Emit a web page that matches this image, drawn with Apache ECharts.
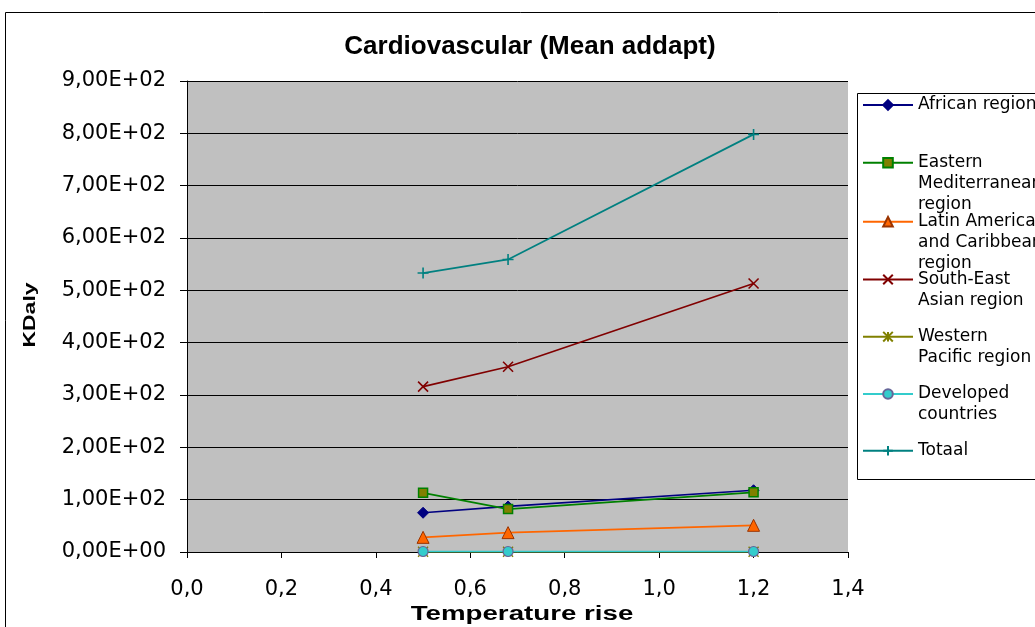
<!DOCTYPE html>
<html>
<head>
<meta charset="utf-8">
<title>Cardiovascular (Mean addapt)</title>
<script src="https://cdn.jsdelivr.net/npm/echarts/dist/echarts.min.js"></script>
<style>
  html, body { margin: 0; padding: 0; background: #ffffff; }
  #chart { width: 1035px; height: 627px; }
</style>
</head>
<body>
<div id="chart"></div>
<script>
// Temperature rise (x) and KDaly per region (y)
const temperatureRise = [0.5, 0.68, 1.2];
const african        = [75, 87, 118];
const easternMed     = [113, 82, 114];
const latinAmerican  = [28, 37, 51];
const southEastAsian = [316, 354, 513];
const westernPacific = [0.5, 0.5, 0.5];
const developed      = [1, 1, 1];
const totaal         = [533, 559, 798];

const seriesNames = [
  'African region',
  'Eastern Mediterranean region',
  'Latin American and Caribbean region',
  'South-East Asian region',
  'Western Pacific region',
  'Developed countries',
  'Totaal'
];
const seriesValues = [african, easternMed, latinAmerican, southEastAsian, westernPacific, developed, totaal];

// Legend text, wrapped the way it is shown in the legend box
const legendLines = [
  ['African region'],
  ['Eastern', 'Mediterranean', 'region'],
  ['Latin American', 'and Caribbean', 'region'],
  ['South-East', 'Asian region'],
  ['Western', 'Pacific region'],
  ['Developed', 'countries'],
  ['Totaal']
];

// Marker / line styling per series
const CROSS = 'path://M0,0L10,10M10,0L0,10';
const PLUS  = 'path://M5,0L5,10M0,5L10,5';
const STAR  = 'path://M5,0L5,10M0,0L10,10M10,0L0,10';
const looks = [
  { line: '#000080', symbol: 'diamond',  size: 11, fill: '#000080', border: '#000080', bw: 1 },
  { line: '#008000', symbol: 'rect',     size: 9,  fill: '#808000', border: '#008000', bw: 1.5 },
  { line: '#FF6600', symbol: 'triangle', size: 12, fill: '#FF6600', border: '#993300', bw: 1 },
  { line: '#800000', symbol: CROSS,      size: 10, fill: '#800000', border: '#800000', bw: 1.6 },
  { line: '#808000', symbol: STAR,       size: 10, fill: '#808000', border: '#808000', bw: 1.4 },
  { line: '#33CCCC', symbol: 'circle',   size: 10, fill: '#33CCCC', border: '#666699', bw: 1.2 },
  { line: '#008080', symbol: PLUS,       size: 11, fill: '#008080', border: '#008080', bw: 1.6 }
];

// Legend rows (vertical centre of each entry's first line)
const legendRowY = [105, 162.7, 221.7, 279.5, 336.7, 394, 450.7];
const LEGEND_LH = 21;

function sciLabel(v) {
  if (v === 0) return '0,00E+00';
  const e = Math.floor(Math.log10(Math.abs(v)) + 1e-9);
  const m = v / Math.pow(10, e);
  return m.toFixed(2).replace('.', ',') + 'E' + (e < 0 ? '-' : '+') + String(Math.abs(e)).padStart(2, '0');
}

const chart = echarts.init(document.getElementById('chart'), null, { renderer: 'canvas' });

const series = seriesNames.map((name, i) => ({
  name: name,
  type: 'line',
  data: temperatureRise.map((x, j) => [x, seriesValues[i][j]]),
  symbol: looks[i].symbol,
  symbolSize: looks[i].size,
  showAllSymbol: true,
  clip: false,
  lineStyle: { color: looks[i].line, width: 1.7 },
  itemStyle: { color: looks[i].fill, borderColor: looks[i].border, borderWidth: looks[i].bw, opacity: 1 },
  emphasis: { disabled: true },
  z: 2 + i
}));

const legends = seriesNames.map((name, i) => {
  const lines = legendLines[i];
  const k = lines.length;
  return {
    data: [name],
    left: 862,
    top: legendRowY[i] - (2 * k - 1) * LEGEND_LH / 2,
    orient: 'vertical',
    padding: 0,
    itemWidth: 50,
    itemHeight: 12,
    selectedMode: false,
    formatter: () => new Array(k - 1).fill('').concat(lines).join('\n'),
    textStyle: { fontFamily: 'DejaVu Sans', fontSize: 17, lineHeight: LEGEND_LH, color: '#000000' }
  };
});

const option = {
  animation: false,
  backgroundColor: '#ffffff',
  title: {
    text: 'Cardiovascular (Mean addapt)',
    left: 530,
    top: 34,
    padding: 0,
    textAlign: 'center',
    textStyle: { fontFamily: 'Liberation Sans', fontWeight: 'bold', fontSize: 26, color: '#000000' }
  },
  legend: legends,
  grid: {
    left: 187, right: 187, top: 81, bottom: 75,
    show: true, backgroundColor: '#C0C0C0', borderWidth: 0
  },
  xAxis: {
    type: 'value',
    min: 0, max: 1.4, interval: 0.2,
    axisLine: { show: true, lineStyle: { color: '#000000', width: 1 } },
    axisTick: { show: true, inside: false, length: 6, lineStyle: { color: '#000000' } },
    splitLine: { show: false },
    axisLabel: {
      margin: 27,
      fontFamily: 'DejaVu Sans', fontSize: 21, color: '#000000',
      formatter: v => v.toFixed(1).replace('.', ',')
    }
  },
  yAxis: {
    type: 'value',
    min: 0, max: 900, interval: 100,
    axisLine: { show: true, lineStyle: { color: '#000000', width: 1 } },
    axisTick: { show: true, inside: false, length: 7, lineStyle: { color: '#000000' } },
    splitLine: { show: true, lineStyle: { color: '#000000', width: 1 } },
    axisLabel: {
      margin: 21,
      fontFamily: 'DejaVu Sans', fontSize: 21, color: '#000000',
      formatter: v => sciLabel(v)
    }
  },
  graphic: [
    { type: 'rect', silent: true, z: -10,
      shape: { x: 5.5, y: 12.5, width: 1100, height: 700 },
      style: { fill: 'none', stroke: '#000000', lineWidth: 1 } },
    { type: 'rect', silent: true, z: -5,
      shape: { x: 857.5, y: 93.5, width: 300, height: 386 },
      style: { fill: 'none', stroke: '#000000', lineWidth: 1 } },
    { type: 'text', silent: true, x: 30, y: 315, rotation: Math.PI / 2, scaleX: 1.35,
      style: { text: 'KDaly', font: 'bold 17px "Liberation Sans"', fill: '#000000',
               align: 'center', verticalAlign: 'middle', textAlign: 'center', textVerticalAlign: 'middle' } },
    { type: 'text', silent: true, x: 522, y: 615, scaleX: 1.42,
      style: { text: 'Temperature rise', font: 'bold 19.5px "Liberation Sans"', fill: '#000000',
               align: 'center', verticalAlign: 'middle', textAlign: 'center', textVerticalAlign: 'middle' } }
  ],
  series: series
};

chart.setOption(option);
</script>
</body>
</html>
